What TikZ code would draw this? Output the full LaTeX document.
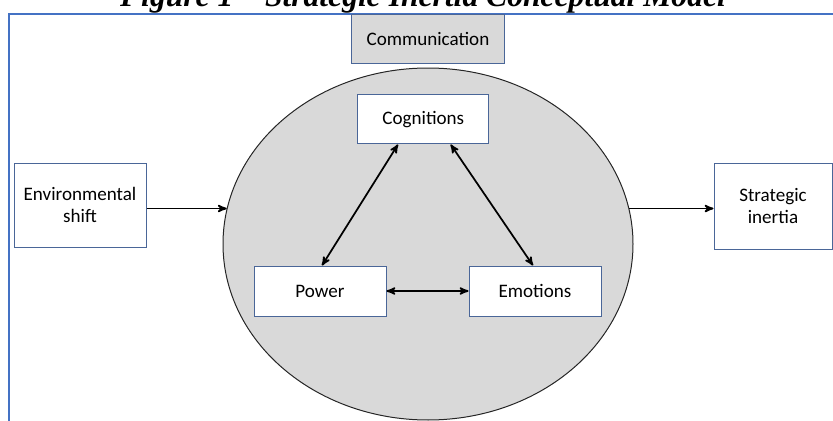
\documentclass[tikz,border=0pt]{standalone}
\usepackage{fontspec}
\setmainfont{Carlito}
\newfontfamily\captionfont{Liberation Serif}
\usetikzlibrary{arrows,positioning,shapes.geometric}
\definecolor{frameblue}{RGB}{68,114,196}
\definecolor{boxedge}{RGB}{74,102,152}
\definecolor{shade}{RGB}{217,217,217}
\tikzstyle{every node}=[font=\fontsize{14.3}{16.5}\selectfont]

\begin{document}
\begin{tikzpicture}[>=stealth',on grid,line width=1.3pt]
  \tikzstyle{factor}=[rectangle,draw=boxedge,fill=white,line width=0.75pt,
                      minimum width=99pt,minimum height=37.5pt,inner sep=2pt,align=center]
  \tikzstyle{hub}=[ellipse,draw=black!85,fill=shade,line width=0.75pt,
                   minimum width=307.5pt,minimum height=264pt,inner sep=0pt]

  \useasboundingbox (0,0) rectangle (624.75pt,-315.75pt);
  \clip (0,0) rectangle (624.75pt,-315.75pt);

  % caption and frame, both run off the edge
  \node[anchor=base,font=\captionfont\fontsize{23.7}{26}\selectfont\bfseries\itshape]
        (caption) at (317.25pt,-4.9pt) {Figure 1 – Strategic Inertia Conceptual Model};
  \draw[frameblue,line width=1.5pt] (6.75pt,-330pt) |- (640pt,-10.5pt);

  \node[hub]    (core) at (321pt,-183pt) {};
  \node[factor] (comm) [above=153.4pt of core,minimum width=114.75pt,minimum height=36.75pt,
                        fill=shade] {Communication};
  \node[factor] (cog)  [above left=93.4pt and 3.5pt of core,minimum width=98.25pt,
                        minimum height=36.75pt] {Cognitions};
  \node[factor] (pow)  [below left=35.25pt and 81pt of core] {Power};
  \node[factor] (emo)  [below right=35.25pt and 80.25pt of core] {Emotions};
  \node[factor] (env)  [above left=29.25pt and 261pt of core,minimum height=63pt]
                       {Environmental\\shift};
  \node[factor] (inert) [above right=28.5pt and 258.75pt of core,minimum width=88.5pt,
                         minimum height=64.5pt] {Strategic\\inertia};

  \draw[->] (env.east |- core.170) -- (core.170);
  \draw[->] (core.10) -- (core.10 -| inert.west);
  \draw[<->] ([xshift=-19pt]cog.south) -- ([xshift=1.5pt]pow.north);
  \draw[<->] ([xshift=20.5pt]cog.south) -- ([xshift=-1.5pt]emo.north);
  \draw[<->] (pow.east) -- (emo.west);
\end{tikzpicture}
\end{document}
